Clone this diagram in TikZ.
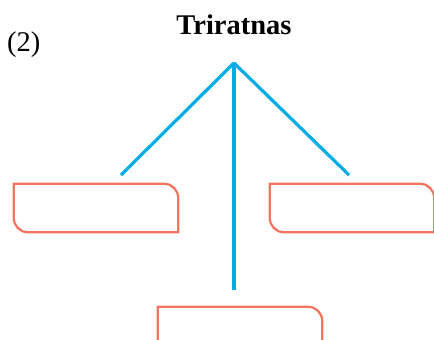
\documentclass[tikz,border=0pt]{standalone}
\usepackage{fontspec}
\setmainfont{Liberation Serif}
\usetikzlibrary{positioning}
\definecolor{stemblue}{RGB}{0,172,232}
\definecolor{boxred}{RGB}{240,118,96}
\tikzset{
  leafbox/.style={draw=none, minimum width=164pt, minimum height=48pt, inner sep=0pt},
  stem/.style={stemblue, line width=3.2pt},
  outline/.style={boxred, line width=2.3pt}
}
\newcommand{\leafpath}[1]{%
  \draw[outline] (#1.north west) -- ([xshift=-14pt]#1.north east)
    arc[start angle=90, end angle=0, radius=14pt] -- (#1.south east)
    -- ([xshift=14pt]#1.south west)
    arc[start angle=270, end angle=180, radius=14pt] -- cycle;}

\begin{document}
\begin{tikzpicture}[x=1pt, y=1pt,
   every node/.style={font=\fontsize{28.5}{32}\selectfont}]

\clip (0,0) rectangle (434,-340);
\useasboundingbox (0,0) rectangle (434,-340);

\node (title) at (234,-25) {\textbf{Triratnas}};
\node[anchor=west, inner sep=0pt] (num) at (7,-45) {(2)};

\coordinate (apex) at (234,-63);
\node[leafbox] (left)  at (96,-208) {};
\node[leafbox] (right) at (352,-208) {};
\node[leafbox] (down)  at (240,-331) {};
\coordinate (leftend)  at (121,-175);
\coordinate (rightend) at (349,-175);
\coordinate (downend)  at (234,-290);

\draw[stem] (apex) -- (leftend);
\draw[stem] (apex) -- (rightend);
\draw[stem] (apex) -- (downend);

\leafpath{left}
\leafpath{right}
\leafpath{down}

\end{tikzpicture}
\end{document}
